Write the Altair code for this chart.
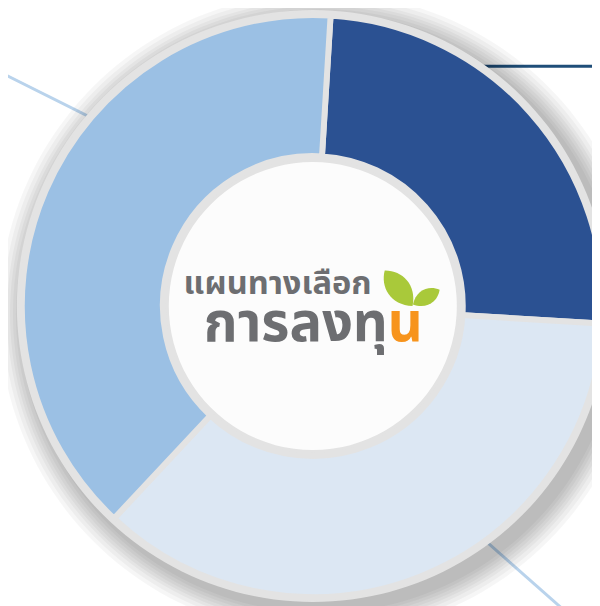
import altair as alt
import pandas as pd
import math

# ---- data ----
segments = ["ส่วนที่ 1", "ส่วนที่ 2", "ส่วนที่ 3"]
shares = [25, 36, 39]
colors = ["#2B5192", "#DCE7F3", "#9BC0E4"]
title_line1 = "แผนทางเลือก"
title_line2a = "การลงทุ"
title_line2b = "น"

W, H = 592, 598
CX, CY = 309, 298
start = math.radians(3.5)

df = pd.DataFrame({"seg": segments, "val": shares, "ord": [0, 1, 2]})

theta_scale = alt.Scale(range=[start, start + 2 * math.pi])
base = alt.Chart(df)

# decorative lines
lines_df = pd.DataFrame({
    "x": [-8, 482, 440], "y": [61, 55, 497],
    "x2": [150, 600, 570], "y2": [140, 55, 612],
    "c": ["#B9D3EC", "#1F4E79", "#B9D3EC"],
})
deco = alt.Chart(lines_df).mark_rule(strokeWidth=3).encode(
    x=alt.X("x:Q", scale=alt.Scale(domain=[0, W], range=[0, W]), axis=None),
    y=alt.Y("y:Q", scale=alt.Scale(domain=[0, H], range=[0, H]), axis=None),
    x2="x2:Q", y2="y2:Q",
    color=alt.Color("c:N", scale=None),
)

one = pd.DataFrame({"v": [1]})
FULL = 2 * math.pi * 0.99999
# soft shadow: many faint concentric discs, offset to the lower right
shadows = []
for r in [326, 322, 318, 315, 312, 309, 306, 303]:
    shadows.append(
        alt.Chart(one).mark_arc(radius=r, color="#000000", opacity=0.035).encode(
            theta=alt.value(FULL), x=alt.value(CX + 8), y=alt.value(CY + 8)
        )
    )

gray_disc = alt.Chart(one).mark_arc(radius=300, color="#E3E3E3").encode(
    theta=alt.value(FULL), x=alt.value(CX), y=alt.value(CY)
)

ring = base.mark_arc(innerRadius=152, outerRadius=295, stroke="#E3E3E3", strokeWidth=6).encode(
    theta=alt.Theta("val:Q", stack=True, scale=theta_scale),
    order=alt.Order("ord:Q"),
    color=alt.Color("seg:N", scale=alt.Scale(domain=segments, range=colors), legend=None),
    x=alt.value(CX), y=alt.value(CY),
)

inner = alt.Chart(one).mark_arc(radius=146, color="#FCFCFC").encode(
    theta=alt.value(FULL), x=alt.value(CX), y=alt.value(CY)
)

font = "Noto Sans Thai, Noto Sans Thai UI, Noto Sans, sans-serif"
t1 = alt.Chart(one).mark_text(text=title_line1, font=font, fontWeight="bold", fontSize=33,
                              color="#6D6E71", align="left", baseline="alphabetic").encode(
    x=alt.value(178), y=alt.value(286))
t2 = alt.Chart(one).mark_text(text=title_line2a, font=font, fontWeight="bold", fontSize=55,
                              color="#6D6E71", align="right", baseline="alphabetic").encode(
    x=alt.value(385), y=alt.value(333))
t3 = alt.Chart(one).mark_text(text=title_line2b, font=font, fontWeight="bold", fontSize=55,
                              color="#F7941D", align="left", baseline="alphabetic").encode(
    x=alt.value(385), y=alt.value(333))

leaf_path = "M0,1 C0.75,0.35 0.6,-0.55 0,-1 C-0.6,-0.55 -0.75,0.35 0,1 Z"
leaf1 = alt.Chart(one).mark_point(shape=leaf_path, filled=True, color="#A9C93A", opacity=1,
                                  size=2100, angle=322).encode(x=alt.value(396), y=alt.value(280))
leaf2 = alt.Chart(one).mark_point(shape=leaf_path, filled=True, color="#A9C93A", opacity=1,
                                  size=960, angle=61).encode(x=alt.value(424), y=alt.value(289))

chart = alt.layer(deco, *shadows, gray_disc, ring, inner, t1, t2, t3, leaf1, leaf2).properties(
    width=W, height=H, padding=0, autosize="none", background="white"
).configure_view(stroke=None)

chart.save("out.html", embed_options={"renderer": "svg", "actions": False})
